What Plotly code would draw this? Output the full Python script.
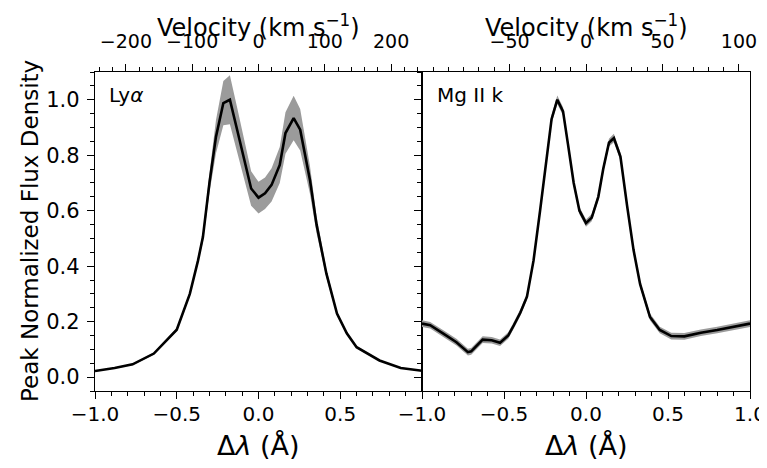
import plotly.graph_objects as go

# ---------------- data ----------------
C_KMS = 299792.458
LYA_REST = 1215.67
MG2K_REST = 2796.35

lya_dl = [-1.00, -0.88, -0.77, -0.64, -0.50, -0.42, -0.37, -0.34, -0.30, -0.26,
          -0.215, -0.175, -0.13, -0.09, -0.045, 0.00, 0.04, 0.08, 0.13, 0.165,
          0.215, 0.255, 0.315, 0.355, 0.415, 0.48, 0.54, 0.60, 0.74, 0.87, 1.00]
lya_flux = [0.022, 0.033, 0.046, 0.085, 0.171, 0.300, 0.420, 0.505, 0.700, 0.867,
            0.988, 1.000, 0.890, 0.790, 0.680, 0.647, 0.663, 0.693, 0.765, 0.880,
            0.934, 0.892, 0.710, 0.550, 0.374, 0.229, 0.158, 0.108, 0.060, 0.033, 0.023]
lya_err = [0.002, 0.002, 0.003, 0.004, 0.006, 0.008, 0.012, 0.018, 0.035, 0.060,
           0.080, 0.088, 0.080, 0.070, 0.062, 0.057, 0.057, 0.060, 0.065, 0.075,
           0.080, 0.075, 0.050, 0.030, 0.015, 0.008, 0.005, 0.004, 0.003, 0.002, 0.002]

mg_dl = [-1.00, -0.95, -0.87, -0.79, -0.72, -0.70, -0.63, -0.575, -0.524, -0.474,
         -0.44, -0.40, -0.36, -0.32, -0.28, -0.25, -0.21, -0.175, -0.14, -0.11,
         -0.075, -0.04, 0.00, 0.035, 0.075, 0.105, 0.14, 0.17, 0.21, 0.25,
         0.29, 0.33, 0.39, 0.45, 0.52, 0.60, 0.70, 0.80, 0.90, 1.00]
mg_flux = [0.193, 0.187, 0.157, 0.126, 0.090, 0.093, 0.135, 0.133, 0.124, 0.150,
           0.187, 0.233, 0.290, 0.420, 0.600, 0.745, 0.930, 1.000, 0.958, 0.840,
           0.700, 0.600, 0.555, 0.575, 0.650, 0.750, 0.845, 0.862, 0.795, 0.620,
           0.458, 0.335, 0.217, 0.170, 0.148, 0.147, 0.160, 0.170, 0.181, 0.193]
mg_err = [0.012, 0.012, 0.012, 0.012, 0.012, 0.012, 0.012, 0.012, 0.012, 0.012,
          0.012, 0.012, 0.012, 0.012, 0.013, 0.014, 0.015, 0.015, 0.015, 0.014,
          0.013, 0.013, 0.013, 0.013, 0.013, 0.013, 0.014, 0.015, 0.014, 0.013,
          0.012, 0.012, 0.012, 0.012, 0.012, 0.012, 0.012, 0.012, 0.012, 0.012]

x_ticks = [-1.0, -0.5, 0.0, 0.5, 1.0]
x_ticktext_left = ["−1.0", "−0.5", "0.0", "0.5", ""]
x_ticktext_right = ["−1.0", "−0.5", "0.0", "0.5", "1.0"]
y_ticks = [0.0, 0.2, 0.4, 0.6, 0.8, 1.0]
lya_vel_ticks = [-200, -100, 0, 100, 200]
mg_vel_ticks = [-50, 0, 50, 100]

# ---------------- styling ----------------
OFF = 8                      # page body margin
W, H = 767 - OFF, 468 - OFF  # figure size


def px(xr):
    return (xr - OFF) / W


def py(yr):
    return 1 - (yr - OFF) / H


FONT = "DejaVu Sans"
BAND = "rgb(155,155,155)"
X_LEFT, X_MID, X_RIGHT = px(95), px(422), px(750)
Y_BOT, Y_TOP = py(391), py(72)

fig = go.Figure()


def add_panel(dl, flux, err, xa, ya, xa_top, rest):
    upper = [f + e for f, e in zip(flux, err)]
    lower = [f - e for f, e in zip(flux, err)]
    fig.add_trace(go.Scatter(x=dl, y=upper, xaxis=xa, yaxis=ya, mode="lines",
                             line=dict(width=0, color=BAND), hoverinfo="skip",
                             showlegend=False))
    fig.add_trace(go.Scatter(x=dl, y=lower, xaxis=xa, yaxis=ya, mode="lines",
                             line=dict(width=0, color=BAND), fill="tonexty",
                             fillcolor=BAND, hoverinfo="skip", showlegend=False))
    fig.add_trace(go.Scatter(x=dl, y=flux, xaxis=xa, yaxis=ya, mode="lines",
                             line=dict(width=2.6, color="black"), showlegend=False))
    vel = [d * C_KMS / rest for d in dl]
    fig.add_trace(go.Scatter(x=vel, y=flux, xaxis=xa_top, yaxis=ya, mode="lines",
                             line=dict(width=0), opacity=0, hoverinfo="skip",
                             showlegend=False))


add_panel(lya_dl, lya_flux, lya_err, "x", "y", "x3", LYA_REST)
add_panel(mg_dl, mg_flux, mg_err, "x2", "y2", "x4", MG2K_REST)

tickfont = dict(family=FONT, size=20, color="black")
common_ax = dict(showgrid=False, zeroline=False, showline=True, linecolor="black",
                 linewidth=1.3, ticks="outside", ticklen=7, tickwidth=1.2,
                 tickcolor="black", tickfont=tickfont, automargin=False)


def bottom_axis(domain, anchor, text):
    return dict(common_ax, domain=domain, anchor=anchor, range=[-1, 1],
                tickvals=x_ticks, ticktext=text, side="bottom",
                ticklabelstandoff=-2,
                minor=dict(tick0=-1, dtick=0.1, ticks="outside", ticklen=4,
                           tickwidth=1, tickcolor="black"))


def top_axis(over, anchor, rest, ticks, mdt):
    vmax = C_KMS / rest
    return dict(common_ax, overlaying=over, anchor=anchor, side="top",
                range=[-vmax, vmax], tickvals=ticks, ticklabelstandoff=8,
                tickfont=dict(family=FONT, size=19, color="black"),
                minor=dict(tick0=0, dtick=mdt, ticks="outside", ticklen=4,
                           tickwidth=1, tickcolor="black"))


def y_axis(anchor, labels):
    return dict(common_ax, domain=[Y_BOT, Y_TOP], anchor=anchor, range=[-0.05, 1.10],
                tickvals=y_ticks, tickformat=".1f", mirror=True,
                showticklabels=labels, ticklabelstandoff=3,
                tickfont=dict(family=FONT, size=21, color="black"),
                minor=dict(tick0=0, dtick=0.05, ticks="outside", ticklen=4,
                           tickwidth=1, tickcolor="black"))


fig.update_layout(
    width=W, height=H, template="none",
    margin=dict(l=0, r=0, t=0, b=0),
    paper_bgcolor="white", plot_bgcolor="rgba(0,0,0,0)",
    font=dict(family=FONT, color="black"),
    showlegend=False,
    xaxis=bottom_axis([X_LEFT, X_MID], "y", x_ticktext_left),
    xaxis2=bottom_axis([X_MID, X_RIGHT], "y2", x_ticktext_right),
    xaxis3=top_axis("x", "y", LYA_REST, lya_vel_ticks, 20),
    xaxis4=top_axis("x2", "y2", MG2K_REST, mg_vel_ticks, 10),
    yaxis=y_axis("x", True),
    yaxis2=y_axis("x2", False),
)

ann = []
for cx in [px((95 + 422) / 2), px((422 + 750) / 2)]:
    ann.append(dict(text="Velocity (km s<sup>−1</sup>)", x=cx, y=1.0,
                    xref="paper", yref="paper", xanchor="center", yanchor="top",
                    showarrow=False, font=dict(family=FONT, size=24, color="black")))
    ann.append(dict(text="Δ<i>λ</i> (Å)", x=cx, y=py(445),
                    xref="paper", yref="paper", xanchor="center", yanchor="middle",
                    showarrow=False, font=dict(family=FONT, size=27, color="black")))
ann.append(dict(text="Peak Normalized Flux Density", x=px(30), y=py(231),
                xref="paper", yref="paper", xanchor="center", yanchor="middle",
                textangle=-90, showarrow=False,
                font=dict(family=FONT, size=23, color="black")))
ann.append(dict(text="Ly<i>α</i>", x=px(107), y=py(95), xref="paper", yref="paper",
                xanchor="left", yanchor="middle", showarrow=False,
                font=dict(family=FONT, size=20, color="black")))
ann.append(dict(text="Mg II k", x=px(435), y=py(95), xref="paper", yref="paper",
                xanchor="left", yanchor="middle", showarrow=False,
                font=dict(family=FONT, size=20, color="black")))
fig.update_layout(annotations=ann)

fig.write_html("out.html")
